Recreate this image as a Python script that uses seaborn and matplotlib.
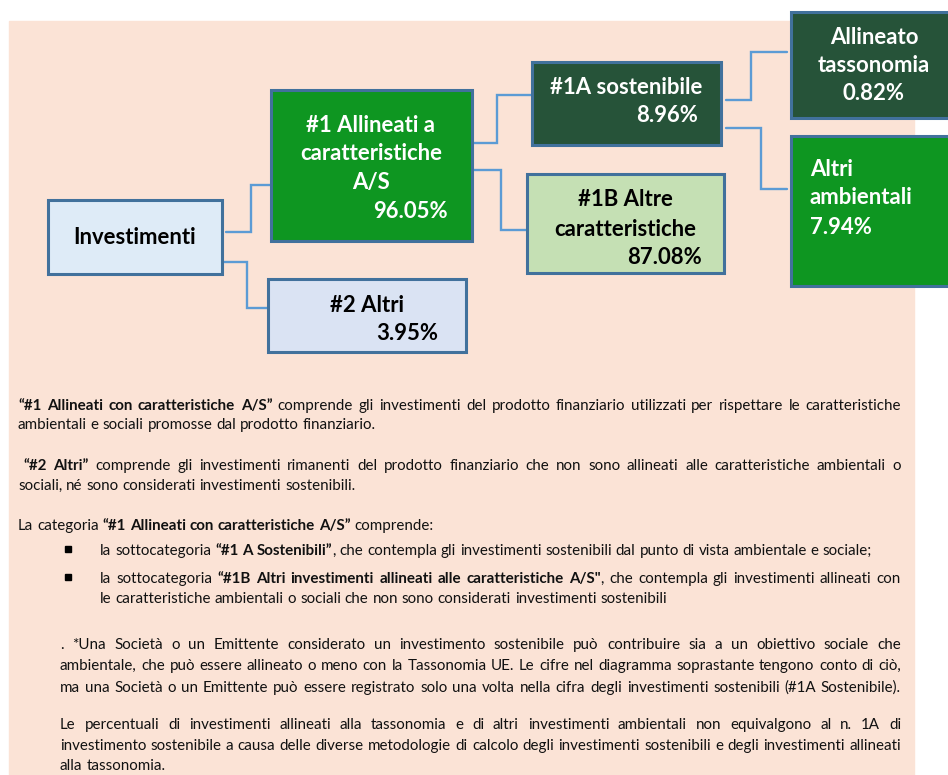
import matplotlib
matplotlib.use("Agg")
import matplotlib.pyplot as plt
import matplotlib.patches as mpatches
import seaborn as sns

# ===============================
# Dati
# ===============================
box_titles = ["Investimenti",
              "#1 Allineati a\ncaratteristiche\nA/S",
              "#2 Altri",
              "#1A sostenibile",
              "#1B Altre\ncaratteristiche",
              "Allineato\ntassonomia",
              "Altri\nambientali"]
box_pcts = [None, 96.05, 3.95, 8.96, 87.08, 0.82, 7.94]
box_parent = [None, 0, 0, 1, 1, 3, 3]

# testo sotto il diagramma: ogni riga = lista di (testo, grassetto)
R, B = False, True
body_lines = [
    [("“#1 Allineati con caratteristiche A/S”", B), (" comprende gli investimenti del prodotto finanziario utilizzati per rispettare le caratteristiche", R)],
    [("ambientali e sociali promosse dal prodotto finanziario.", R)],
    [("“#2 Altri”", B), (" comprende gli investimenti rimanenti del prodotto finanziario che non sono allineati alle caratteristiche ambientali o", R)],
    [("sociali, né sono considerati investimenti sostenibili.", R)],
    [("La categoria ", R), ("“#1 Allineati con caratteristiche A/S”", B), (" comprende:", R)],
    [("la sottocategoria ", R), ("“#1 A Sostenibili”", B), (", che contempla gli investimenti sostenibili dal punto di vista ambientale e sociale;", R)],
    [("la sottocategoria ", R), ("“#1B Altri investimenti allineati alle caratteristiche A/S\"", B), (", che contempla gli investimenti allineati con", R)],
    [("le caratteristiche ambientali o sociali che non sono considerati investimenti sostenibili", R)],
    [(". *Una Società o un Emittente considerato un investimento sostenibile può contribuire sia a un obiettivo sociale che", R)],
    [("ambientale, che può essere allineato o meno con la Tassonomia UE. Le cifre nel diagramma soprastante tengono conto di ciò,", R)],
    [("ma una Società o un Emittente può essere registrato solo una volta nella cifra degli investimenti sostenibili (#1A Sostenibile).", R)],
    [("Le percentuali di investimenti allineati alla tassonomia e di altri investimenti ambientali non equivalgono al n. 1A di", R)],
    [("investimento sostenibile a causa delle diverse metodologie di calcolo degli investimenti sostenibili e degli investimenti allineati", R)],
    [("alla tassonomia.", R)],
]
bullet_rows = [5, 6]

# ===============================
# Layout (pixel)
# ===============================
W, H = 948, 775
box_x0 = [48, 271, 268, 532, 527, 791, 791]
box_y0 = [200, 90, 279, 62, 174, 12, 136]
box_x1 = [222, 472, 466, 721, 724, 962, 962]
box_y1 = [274, 241, 352, 145, 273, 118, 286]
box_fill = ["#DEEBF7", "#0E9621", "#DAE3F3", "#265339", "#C5E0B4", "#265339", "#0E9621"]
box_txt = ["black", "white", "black", "white", "black", "white", "white"]
# posizioni delle righe del titolo e della percentuale
title_pos = [[(135, 238, "center")],
             [(371, 126, "center"), (371, 154, "center"), (371, 183, "center")],
             [(367, 306, "center")],
             [(626, 87, "center")],
             [(625, 199, "center"), (625, 229, "center")],
             [(874, 37, "center"), (874, 66, "center")],
             [(810, 169, "left"), (810, 197, "left")]]
pct_pos = [None, (448, 211, "right"), (438, 334, "right"), (698, 116, "right"),
           (702, 257, "right"), (874, 94, "center"), (810, 227, "left")]
# connettori: (x partenza, y partenza, x gomito, y arrivo, x arrivo)
conn = [None, (226, 232, 251, 185, 271), (222, 262, 247, 308, 268),
        (473, 143, 497, 95, 532), (466, 170, 501, 230, 527),
        (726, 100, 751, 52, 787), (726, 128, 761, 189, 787)]

line_y = [406, 425, 466, 486, 526, 551, 579, 599, 645, 666, 688, 725, 746, 766]
line_x = [18, 18, 23, 18, 18, 100, 100, 100, 60, 60, 60, 60, 60, 60]
line_justify = [True, False, True, False, False, False, True, False, True, True, True, True, True, False]
right_edge = 901

peach = "#FBE3D6"
edge_col = "#41719C"
conn_col = "#5B9BD5"

# ===============================
# Figura
# ===============================
sns.set_theme(style="white")
plt.rcParams['font.family'] = ['Lato', 'DejaVu Sans']

fig = plt.figure(figsize=(W / 100, H / 100), dpi=100)
ax = fig.add_axes([0, 0, 1, 1])
ax.set_xlim(0, W)
ax.set_ylim(H, 0)
ax.axis("off")
renderer = fig.canvas.get_renderer()


def text_width(s, size, bold):
    t = ax.text(0, 0, s, fontsize=size, fontweight="bold" if bold else "normal")
    w = t.get_window_extent(renderer).width
    t.remove()
    return w


def tokenize(runs):
    tokens = []
    pending = False
    for txt, bold in runs:
        for j, part in enumerate(txt.split(" ")):
            if j > 0:
                pending = True
            if part == "":
                continue
            tokens.append((part, bold, pending and len(tokens) > 0))
            pending = False
    return tokens


def natural_width(runs, size):
    sp = text_width("a a", size, False) - text_width("aa", size, False)
    toks = tokenize(runs)
    return sum(text_width(t, size, b) for t, b, _ in toks) + sp * sum(1 for t in toks if t[2])


# dimensioni dei font ricavate dalla larghezza dei testi del riferimento
box_size = 10 * 123 / text_width("Investimenti", 10, True)
body_size = 10 * (872 - line_x[5]) / natural_width(body_lines[5], 10)

ax.add_patch(mpatches.Rectangle((9, 21), 905, H - 21, color=peach, zorder=0))

# connettori
for c in conn:
    if c is None:
        continue
    x0, y0, xm, y1, x1 = c
    ax.plot([x0, xm, xm, x1], [y0, y0, y1, y1], color=conn_col, lw=1.7,
            solid_joinstyle="miter", zorder=1)

# riquadri
for i, title in enumerate(box_titles):
    ax.add_patch(mpatches.Rectangle((box_x0[i], box_y0[i]), box_x1[i] - box_x0[i],
                                    box_y1[i] - box_y0[i], facecolor=box_fill[i],
                                    edgecolor=edge_col, lw=2.2, zorder=2))
    for line, (tx, ty, ha) in zip(title.split("\n"), title_pos[i]):
        ax.text(tx, ty, line, ha=ha, va="center", fontsize=box_size,
                fontweight="bold", color=box_txt[i], zorder=3)
    if box_pcts[i] is not None:
        tx, ty, ha = pct_pos[i]
        ax.text(tx, ty, f"{box_pcts[i]:.2f}%", ha=ha, va="center", fontsize=box_size,
                fontweight="bold", color=box_txt[i], zorder=3)

# testo esplicativo (giustificato dove serve)
space_w = text_width("a a", body_size, False) - text_width("aa", body_size, False)
for k, runs in enumerate(body_lines):
    tokens = tokenize(runs)
    widths = [text_width(t, body_size, b) for t, b, _ in tokens]
    n_gaps = sum(1 for t in tokens if t[2])
    gap = space_w
    if line_justify[k] and n_gaps:
        gap = max((right_edge - line_x[k] - sum(widths)) / n_gaps, space_w * 0.6)
    x = line_x[k]
    for (t, b, sp), w in zip(tokens, widths):
        if sp:
            x += gap
        ax.text(x, line_y[k], t, ha="left", va="center", fontsize=body_size,
                fontweight="bold" if b else "normal", color="#111111", zorder=3)
        x += w

for k in bullet_rows:
    ax.plot(68, line_y[k] - 2, marker="s", ms=4.2, color="black", zorder=3)

fig.savefig("out.png", dpi=100, facecolor="white")
